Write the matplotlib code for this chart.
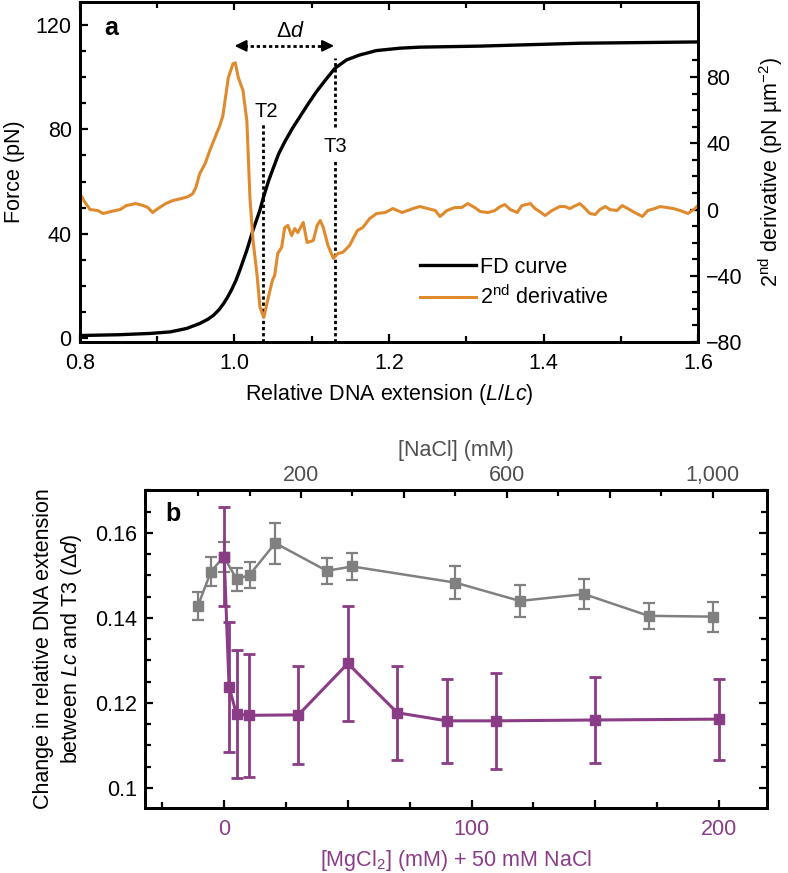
import matplotlib
matplotlib.use("Agg")
import matplotlib.pyplot as plt
from matplotlib.ticker import MultipleLocator, FixedLocator, FixedFormatter, FormatStrFormatter

plt.rcParams['font.family'] = ['Liberation Sans', 'DejaVu Sans']
plt.rcParams['mathtext.fontset'] = 'custom'
plt.rcParams['mathtext.rm'] = 'Liberation Sans'
plt.rcParams['mathtext.it'] = 'Liberation Sans:italic'
plt.rcParams['mathtext.bf'] = 'Liberation Sans:bold'
plt.rcParams['font.size'] = 15.5

# panel a: force-distance curve
fd_x = [0.800, 0.850, 0.891, 0.917, 0.938, 0.955, 0.966, 0.973, 0.980, 0.986, 0.991, 0.996,
        1.002, 1.007, 1.016, 1.024, 1.033, 1.037, 1.044, 1.050, 1.057, 1.065, 1.075, 1.085,
        1.095, 1.106, 1.118, 1.130, 1.145, 1.162, 1.184, 1.214, 1.240, 1.318, 1.447, 1.600]
fd_force = [1.0, 1.3, 1.8, 2.4, 3.7, 5.6, 7.3, 8.8, 10.9, 13.3, 15.7, 18.4,
            22.2, 26.1, 33.7, 41.4, 49.1, 53.5, 60.2, 65.0, 70.5, 75.2, 80.4, 85.0,
            89.6, 94.4, 99.0, 103.4, 106.6, 108.5, 110.2, 111.1, 111.5, 111.9, 113.0, 113.5]

# panel a: second derivative
d2_x = [0.800, 0.805, 0.813, 0.823, 0.830, 0.840, 0.852, 0.860, 0.872, 0.882, 0.888, 0.894,
        0.901, 0.911, 0.920, 0.931, 0.940, 0.946, 0.950, 0.955, 0.962, 0.968, 0.981, 0.985,
        0.992, 0.998, 1.001, 1.005, 1.011, 1.016, 1.020, 1.024, 1.029, 1.033, 1.038, 1.042,
        1.049, 1.052, 1.056, 1.061, 1.065, 1.069, 1.074, 1.078, 1.082, 1.089, 1.094, 1.102,
        1.107, 1.111, 1.115, 1.121, 1.128, 1.134, 1.140, 1.149, 1.159, 1.166, 1.175, 1.184,
        1.195, 1.205, 1.217, 1.231, 1.240, 1.250, 1.260, 1.266, 1.275, 1.285, 1.294, 1.302,
        1.311, 1.318, 1.328, 1.337, 1.344, 1.350, 1.357, 1.366, 1.372, 1.383, 1.389, 1.395,
        1.402, 1.411, 1.421, 1.428, 1.434, 1.447, 1.454, 1.460, 1.467, 1.473, 1.480, 1.486,
        1.495, 1.502, 1.509, 1.518, 1.528, 1.535, 1.544, 1.551, 1.560, 1.568, 1.577, 1.587,
        1.596, 1.600]
d2_val = [9.6, 5.4, 0.0, -0.6, -2.4, -1.2, 0.0, 2.4, 3.6, 2.4, 1.2, -1.8,
          0.6, 3.6, 5.4, 6.6, 7.8, 9.6, 13.3, 21.7, 27.7, 35.6, 50.7, 56.7,
          79.6, 88.0, 88.6, 79.6, 71.8, 53.7, 7.2, -18.7, -38.6, -59.1, -65.1, -56.7,
          -42.8, -39.8, -26.5, -22.9, -10.9, -9.6, -15.7, -11.5, -13.9, -7.8, -19.9, -18.7,
          -9.6, -6.6, -10.9, -21.7, -29.5, -26.5, -25.9, -21.7, -12.7, -10.9, -5.4, -2.4,
          -1.8, 0.6, -1.8, 0.6, 1.8, 0.6, -0.6, -4.2, -0.6, 1.2, 1.2, 3.6,
          1.2, -1.2, -1.8, -0.6, 1.8, 3.0, 0.0, -1.8, 2.4, 3.6, 0.6, -1.2,
          -3.6, -0.6, 1.8, 1.8, 0.6, 3.6, 0.6, -2.4, -3.0, 0.0, 1.8, 0.0,
          -0.6, 2.4, 0.6, -1.8, -4.2, -0.6, 0.6, 1.8, 1.2, 0.6, -0.6, -2.4,
          0.6, 2.4]

t2_x = 1.037
t3_x = 1.130
dd_start = 1.0
dd_end = 1.129

# panel b
nacl = [0, 25, 50, 75, 100, 150, 250, 300, 500, 625, 750, 875, 1000]
nacl_dd = [0.1429, 0.1509, 0.1544, 0.1491, 0.1501, 0.1576, 0.1511, 0.1521, 0.1483,
           0.1440, 0.1456, 0.1405, 0.1403]
nacl_err = [0.0033, 0.0034, 0.0035, 0.0027, 0.0030, 0.0048, 0.0030, 0.0032, 0.0038,
            0.0038, 0.0035, 0.0030, 0.0035]

mgcl2 = [0, 2, 5, 10, 30, 50, 70, 90, 110, 150, 200]
mgcl2_dd = [0.1544, 0.1237, 0.1174, 0.1171, 0.1172, 0.1293, 0.1177, 0.1158, 0.1158, 0.1160, 0.1162]
mgcl2_err = [0.0117, 0.0153, 0.0150, 0.0145, 0.0116, 0.0136, 0.0111, 0.0098, 0.0113, 0.0101, 0.0095]

orange = '#e08a2e'
purple = '#8b3c86'
grey = '#808080'
grey_text = '#505050'

fig = plt.figure(figsize=(7.88, 8.73), dpi=100)


def style(a):
    for s in a.spines.values():
        s.set_linewidth(2.0)
    a.tick_params(which='both', direction='in', width=1.6)
    a.tick_params(which='major', length=6, pad=6)
    a.tick_params(which='minor', length=4.5)


#a: FD curve with 2nd derivative
ax = fig.add_axes([0.1015, 0.6082, 0.7843, 0.3895])
ax2 = ax.twinx()
style(ax)
style(ax2)

ax.plot(fd_x, fd_force, color='k', lw=2.4, label='FD curve')
ax2.plot(d2_x, d2_val, color=orange, lw=2.2, label='2$^{\\rm nd}$ derivative')

ax.set_xlim(0.8, 1.6)
ax.set_ylim(-1.5, 128.8)
ax2.set_ylim(-80, 125.3)
ax.xaxis.set_major_locator(MultipleLocator(0.2))
ax.xaxis.set_minor_locator(MultipleLocator(0.1))
ax.xaxis.set_major_formatter(FormatStrFormatter('%.1f'))
ax.yaxis.set_major_locator(MultipleLocator(40))
ax.yaxis.set_minor_locator(MultipleLocator(10))
ax2.yaxis.set_major_locator(FixedLocator([-80, -40, 0, 40, 80]))
ax2.yaxis.set_minor_locator(FixedLocator([v for v in range(-70, 91, 10) if v % 40]))
ax.tick_params(axis='x', which='both', top=True)
ax.tick_params(axis='x', pad=8)

ax.set_xlabel('Relative DNA extension ($L$/$Lc$)', labelpad=6)
ax.set_ylabel('Force (pN)', labelpad=8)
ax2.set_ylabel('2$^{\\rm nd}$ derivative (pN µm$^{-2}$)', labelpad=10)

# transition markers
dots = (0, (1.2, 1.0))
ax.plot([t2_x, t2_x], [-1.5, 82.8], color='k', lw=2, linestyle=dots)
ax.plot([t3_x, t3_x], [80.9, 107.4], color='k', lw=2, linestyle=dots)
ax.plot([t3_x, t3_x], [-1.5, 68.3], color='k', lw=2, linestyle=dots)
ax.text(t2_x + 0.004, 87, 'T2', ha='center', va='center', fontsize=14.5)
ax.text(t3_x + 0.001, 73.6, 'T3', ha='center', va='center', fontsize=14.5)

ax.plot([dd_start + 0.012, dd_end - 0.012], [112, 112], color='k', lw=2, linestyle=dots)
for tip, tail in [(dd_start, dd_start + 0.014), (dd_end, dd_end - 0.014)]:
    ax.annotate('', xy=(tip, 112), xytext=(tail, 112),
                arrowprops=dict(arrowstyle='-|>,head_length=0.45,head_width=0.22',
                                color='k', lw=1.5, shrinkA=0, shrinkB=0))
ax.text(1.072, 117.5, 'Δ$d$', ha='center', va='center', fontsize=15.5)
ax.text(0.841, 119, 'a', ha='center', va='center', fontsize=18, fontweight='bold')

h1, l1 = ax.get_legend_handles_labels()
h2, l2 = ax2.get_legend_handles_labels()
ax2.legend(h1 + h2, l1 + l2, loc='upper left', bbox_to_anchor=(0.55, 0.25),
           frameon=False, borderaxespad=0, borderpad=0, handlelength=2.6,
           handletextpad=0.2, labelspacing=0.35)

#b: delta d vs salt
bx = fig.add_axes([0.1840, 0.07446, 0.7893, 0.3643])
bx_top = bx.twiny()
bx.set_zorder(bx_top.get_zorder() + 1)
bx.patch.set_visible(False)
style(bx)
style(bx_top)

bx_top.errorbar(nacl, nacl_dd, yerr=nacl_err, fmt='-s', color=grey, lw=1.8, ms=7,
                elinewidth=1.6, capsize=4, capthick=1.6)
bx.errorbar(mgcl2, mgcl2_dd, yerr=mgcl2_err, fmt='-s', color=purple, lw=2.2, ms=7.5,
            elinewidth=2.0, capsize=4, capthick=2.0)

bx.set_xlim(-32, 219.4)
bx_top.set_xlim(-103, 1105)
bx.set_ylim(0.0953, 0.1701)

bx.xaxis.set_major_locator(FixedLocator([0, 50, 100, 150, 200]))
bx.xaxis.set_major_formatter(FixedFormatter(['0', '', '100', '', '200']))
bx.xaxis.set_minor_locator(MultipleLocator(25))
bx_top.xaxis.set_major_locator(FixedLocator([200, 400, 600, 800, 1000]))
bx_top.xaxis.set_major_formatter(FixedFormatter(['200', '', '600', '', '1,000']))
bx_top.xaxis.set_minor_locator(FixedLocator([0, 100, 300, 500, 700, 900]))
bx.yaxis.set_major_locator(FixedLocator([0.10, 0.12, 0.14, 0.16]))
bx.yaxis.set_major_formatter(FixedFormatter(['0.1', '0.12', '0.14', '0.16']))
bx.yaxis.set_minor_locator(MultipleLocator(0.005))
bx.tick_params(axis='y', which='both', right=True)
bx.tick_params(axis='x', which='both', colors=purple, pad=8)
bx.tick_params(axis='x', which='both', color='k')
bx_top.tick_params(axis='x', which='both', labelcolor=grey_text, pad=3)

bx.set_xlabel('[MgCl$_2$] (mM) + 50 mM NaCl', color=purple, labelpad=6)
bx_top.set_xlabel('[NaCl] (mM)', color=grey_text, labelpad=6)
bx.set_ylabel('Change in relative DNA extension\nbetween $Lc$ and T3 (Δ$d$)',
              labelpad=8, linespacing=1.25)
bx.text(-20.5, 0.1645, 'b', ha='center', va='center', fontsize=18, fontweight='bold')

plt.savefig('out.png', dpi=100)
